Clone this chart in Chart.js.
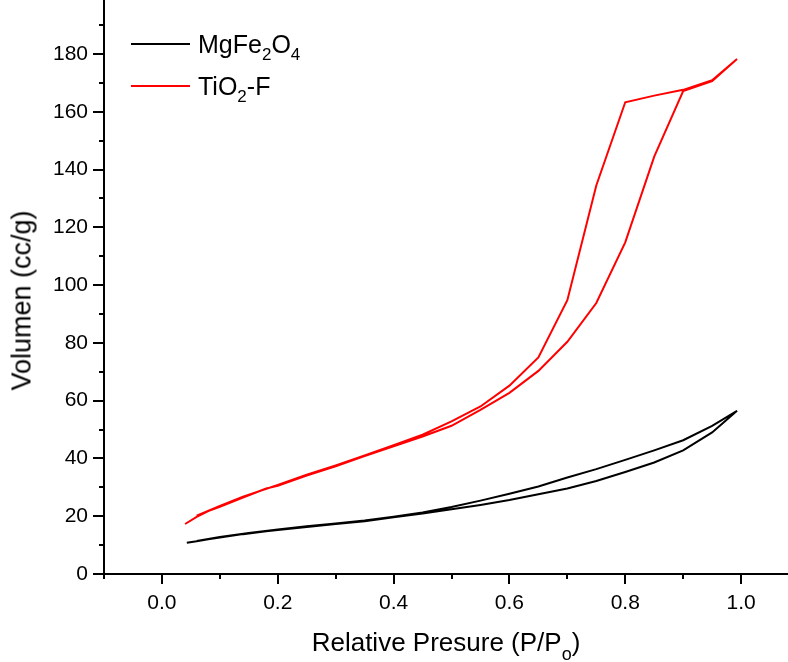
<!DOCTYPE html>
<html>
<head>
<meta charset="utf-8">
<script src="https://cdn.jsdelivr.net/npm/chart.js@4.4.1/dist/chart.umd.min.js"></script>
<style>
html,body{margin:0;padding:0;background:#fff;}
#wrap{position:relative;width:788px;height:662px;overflow:hidden;font-family:"Liberation Sans",Arial,sans-serif;color:#000;background:#fff;}
#c{position:absolute;left:0;top:0;}
.lg{position:absolute;left:198px;font-size:25px;line-height:25px;white-space:nowrap;}
.lg sub{font-size:17px;vertical-align:-7px;line-height:0;}
.sw{position:absolute;left:131px;width:59px;height:2px;}
#xt{position:absolute;left:104px;width:684px;top:629px;text-align:center;font-size:26px;line-height:26px;white-space:nowrap;}
#xt sub{font-size:18px;vertical-align:-9px;line-height:0;}
#yt{position:absolute;left:-178px;top:287px;width:400px;text-align:center;font-size:27px;line-height:27px;white-space:nowrap;transform:rotate(-90deg);transform-origin:50% 50%;}
</style>
</head>
<body>
<div id="wrap">
<canvas id="c" width="788" height="662"></canvas>
<div class="sw" style="top:43px;background:#000"></div>
<div class="lg" style="top:32px">MgFe<sub>2</sub>O<sub>4</sub></div>
<div class="sw" style="top:85px;background:#ff0000"></div>
<div class="lg" style="top:74px">TiO<sub>2</sub>-F</div>
<div id="xt">Relative Presure (P/P<sub>o</sub>)</div>
<div id="yt">Volumen (cc/g)</div>
</div>
<script>
// ---- data ----
const seriesNames = ['MgFe2O4', 'TiO2-F'];

const mgAdsP = [0.043, 0.06, 0.08, 0.10, 0.14, 0.18, 0.20, 0.25, 0.30, 0.35, 0.40, 0.45, 0.50, 0.55, 0.60, 0.65, 0.70, 0.75, 0.80, 0.85, 0.90, 0.95, 0.993];
const mgAdsV = [10.8, 11.3, 12.0, 12.6, 13.8, 14.8, 15.2, 16.3, 17.3, 18.3, 19.6, 20.9, 22.4, 23.9, 25.6, 27.6, 29.6, 32.2, 35.3, 38.6, 42.8, 49.0, 56.5];
const mgDesP = [0.993, 0.95, 0.90, 0.85, 0.80, 0.75, 0.70, 0.65, 0.60, 0.55, 0.50, 0.45, 0.40, 0.35, 0.30, 0.25, 0.20, 0.15, 0.10, 0.06];
const mgDesV = [56.5, 51.3, 46.3, 42.8, 39.5, 36.3, 33.4, 30.3, 27.8, 25.4, 23.2, 21.3, 19.8, 18.5, 17.5, 16.5, 15.4, 14.2, 12.8, 11.4];

const tiAdsP = [0.04, 0.06, 0.08, 0.10, 0.14, 0.18, 0.20, 0.25, 0.30, 0.35, 0.40, 0.45, 0.50, 0.55, 0.60, 0.65, 0.70, 0.75, 0.80, 0.85, 0.90, 0.95, 0.993];
const tiAdsV = [17.3, 19.8, 21.8, 23.3, 26.5, 29.6, 30.5, 34.1, 37.3, 40.8, 44.2, 47.6, 51.3, 56.8, 62.7, 70.3, 80.4, 93.8, 114.8, 144.5, 167.2, 170.6, 178.3];
const tiDesP = [0.993, 0.95, 0.90, 0.85, 0.80, 0.75, 0.70, 0.65, 0.60, 0.55, 0.50, 0.45, 0.40, 0.35, 0.30, 0.25, 0.20, 0.14, 0.10, 0.06];
const tiDesV = [178.3, 170.9, 167.6, 165.6, 163.3, 134.5, 94.8, 75.0, 65.2, 58.0, 52.8, 48.2, 44.6, 41.0, 37.6, 34.4, 30.8, 26.8, 23.6, 20.2];

const xTickLabels = ['0.0', '0.2', '0.4', '0.6', '0.8', '1.0'];
const yTickLabels = ['0', '20', '40', '60', '80', '100', '120', '140', '160', '180'];

// ---- build ----
function loop(ap, av, dp, dv) {
  const a = ap.map((x, i) => ({x: x, y: av[i]}));
  const d = dp.map((x, i) => ({x: x, y: dv[i]}));
  return a.concat(d);
}
const FONT = '"Liberation Sans", Arial, sans-serif';

function noPad(s) {
  s.paddingTop = 0; s.paddingBottom = 0; s.paddingLeft = 0; s.paddingRight = 0;
}

const tickMarks = {
  id: 'tickMarks',
  afterDraw(chart) {
    const ctx = chart.ctx;
    const xs = chart.scales.x, ys = chart.scales.y;
    const area = chart.chartArea;
    ctx.save();
    ctx.strokeStyle = '#000';
    ctx.lineWidth = 2;
    ctx.beginPath();
    for (let k = -1; k <= 10; k++) {
      const v = k / 10;
      if (v > xs.max) break;
      const px = Math.round(xs.getPixelForValue(v));
      const len = (k % 2 === 0) ? 10 : 5;
      ctx.moveTo(px, area.bottom);
      ctx.lineTo(px, area.bottom + len);
    }
    for (let v = 0; v <= ys.max; v += 10) {
      const py = Math.round(ys.getPixelForValue(v));
      const len = (v % 20 === 0) ? 11 : 5;
      ctx.moveTo(area.left, py);
      ctx.lineTo(area.left - len, py);
    }
    ctx.stroke();
    ctx.restore();
  }
};

new Chart(document.getElementById('c'), {
  type: 'scatter',
  data: {
    datasets: [
      {label: seriesNames[0], data: loop(mgAdsP, mgAdsV, mgDesP, mgDesV), showLine: true,
       borderColor: '#000000', backgroundColor: '#000000', borderWidth: 2, pointRadius: 0, tension: 0, fill: false},
      {label: seriesNames[1], data: loop(tiAdsP, tiAdsV, tiDesP, tiDesV), showLine: true,
       borderColor: '#ff0000', backgroundColor: '#ff0000', borderWidth: 2, pointRadius: 0, tension: 0, fill: false}
    ]
  },
  options: {
    responsive: false,
    animation: false,
    devicePixelRatio: 1,
    layout: {padding: 0},
    plugins: {legend: {display: false}, tooltip: {enabled: false}},
    scales: {
      x: {
        type: 'linear', min: -0.1, max: 1.081,
        afterFit(s) { s.height = 88; noPad(s); },
        grid: {display: true, drawOnChartArea: false, drawTicks: false},
        border: {display: true, color: '#000', width: 2},
        ticks: {
          stepSize: 0.1, includeBounds: false, autoSkip: false, maxRotation: 0,
          color: '#000', padding: 17, font: {size: 21, family: FONT},
          callback(v) {
            const r = Math.round(v * 10);
            if (r < 0 || r % 2 !== 0) return '';
            return xTickLabels[r / 2] || '';
          }
        }
      },
      y: {
        type: 'linear', min: 0, max: 198.7,
        afterFit(s) { s.width = 104; noPad(s); },
        grid: {display: true, drawOnChartArea: false, drawTicks: false},
        border: {display: true, color: '#000', width: 2},
        ticks: {
          stepSize: 10, includeBounds: false, autoSkip: false,
          color: '#000', padding: 16, font: {size: 21, family: FONT},
          callback(v) {
            const r = Math.round(v);
            if (r % 20 !== 0) return '';
            return yTickLabels[r / 20] || '';
          }
        }
      }
    }
  },
  plugins: [tickMarks]
});
</script>
</body>
</html>
